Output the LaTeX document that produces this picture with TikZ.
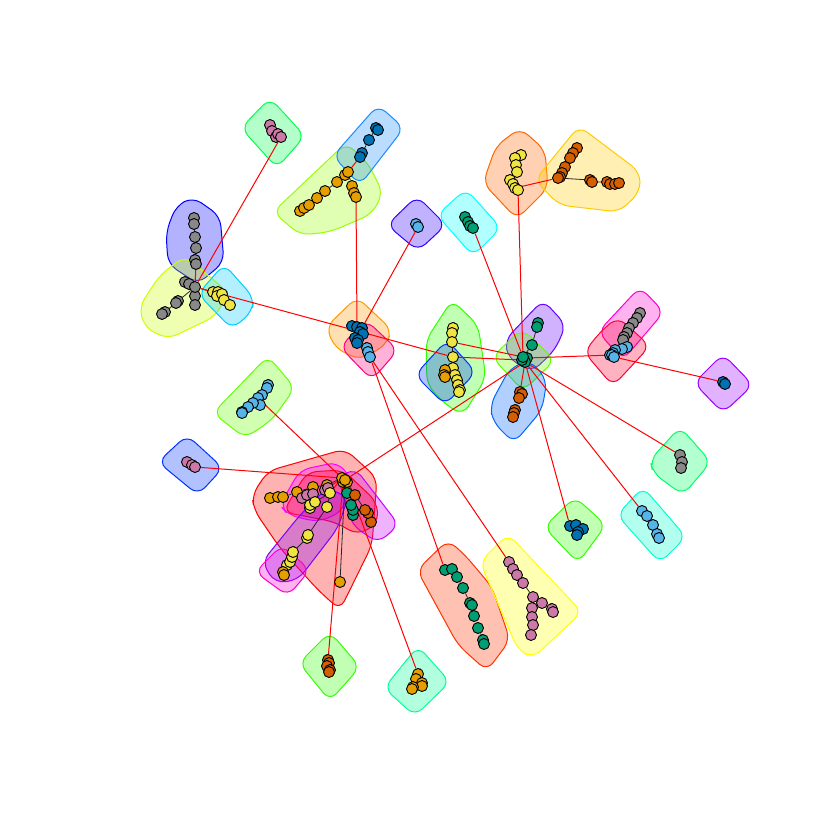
\documentclass[tikz,border=0pt]{standalone}
\pgfdeclarelayer{paper}
\pgfdeclarelayer{blobs}
\pgfdeclarelayer{edges}
\pgfsetlayers{paper,blobs,edges,main}
\definecolor{vOr}{HTML}{E69F00}
\definecolor{vSb}{HTML}{56B4E9}
\definecolor{vGr}{HTML}{009E73}
\definecolor{vYe}{HTML}{F0E442}
\definecolor{vBl}{HTML}{0072B2}
\definecolor{vVe}{HTML}{D55E00}
\definecolor{vPu}{HTML}{CC79A7}
\definecolor{vGy}{HTML}{888888}
\definecolor{bGreenA}{HTML}{00FF4D}
\definecolor{bBlue}{HTML}{0000FF}
\definecolor{bLime}{HTML}{CCFF00}
\definecolor{bAzure}{HTML}{00CCFF}
\definecolor{bChart}{HTML}{99FF00}
\definecolor{bSky}{HTML}{1A8CFF}
\definecolor{bIndigo}{HTML}{3300FF}
\definecolor{bCyan}{HTML}{00FFFF}
\definecolor{bOrange}{HTML}{FF6600}
\definecolor{bGold}{HTML}{FFCC00}
\definecolor{bAmber}{HTML}{FF9900}
\definecolor{bRose}{HTML}{FF0080}
\definecolor{bGreen}{HTML}{33FF00}
\definecolor{bRoyal}{HTML}{0033FF}
\definecolor{bViolet}{HTML}{6600FF}
\definecolor{bLawn}{HTML}{66FF00}
\definecolor{bDodger}{HTML}{0066FF}
\definecolor{bPink}{HTML}{FF00CC}
\definecolor{bCrimson}{HTML}{FF0033}
\definecolor{bPurple}{HTML}{9900FF}
\definecolor{bSpring}{HTML}{00FF66}
\definecolor{bAqua}{HTML}{00FFCC}
\definecolor{bVerm}{HTML}{FF3300}
\definecolor{bYellow}{HTML}{FFFF00}
\definecolor{bMint}{HTML}{00FF99}
\definecolor{bRed}{HTML}{FF0000}
\definecolor{bMagenta}{HTML}{FF00FF}
\definecolor{bOrchid}{HTML}{CC00FF}
\definecolor{bPurp}{HTML}{8000FF}
\tikzset{
  vtx/.style={circle, draw=black, line width=0.9pt, minimum size=11pt, inner sep=0pt, fill=#1},
  ie/.style={draw=black!85, line width=0.8pt},
  xe/.style={draw=red, line width=1pt},
  blob/.style={draw=#1, fill=#1, fill opacity=0.3, line width=1pt, rounded corners=10pt},
}
\begin{document}
\begin{tikzpicture}[x=1pt,y=-1pt]
\begin{pgfonlayer}{paper}
\fill[white] (0,0) rectangle (840,840);
\end{pgfonlayer}
\useasboundingbox (0,0) rectangle (840,840);
% ---------- vertices ----------
\foreach \n/\x/\y in {a1/270/125,a2/272/131,a3/276/137,a5/278/134,a4/281/137,
  z1/187/462,z2/192/465,z3/195/467,
  vv1/509/562,vv2/513/569,vv3/517/575,vv4/523/583,vv5/533/597,vv6/542/603,vv7/552/609,vv8/553/612,
  vv9/532/608,vv10/532/617,vv11/533/625,vv12/531/635}
  \node[vtx=vPu] (\n) at (\x,\y) {};
\foreach \n/\x/\y in {b1/194/218,b2/194/224,b3/195/237,b4/196/248,b5/195/260,b6/196/264,
  g1/185/282,g2/189/284,g3/195/296,g4/195/305,g5/178/301,g6/176/303,g7/165/312,g8/162/314,g0/195/287,
  p1/640/313,p2/637/318,p3/633/323,p4/629/328,p5/627/333,p6/624/337,p7/623/340,
  r1/680/455,r2/682/462,r3/681/468}
  \node[vtx=vGy] (\n) at (\x,\y) {};
\foreach \n/\x/\y in {d1/213/292,d2/218/292,d6/217/296,d3/222/294,d4/224/300,d5/230/305,
  i1/521/155,i2/515/158,i3/516/165,i4/517/172,i5/510/180,i6/513/184,i7/515/188,i8/518/190,
  n1/453/328,n2/452/333,n3/452/342,n4/453/357,n5/453/368,n6/455/375,n7/457/380,n8/458/385,n9/460/390,n10/459/392}
  \node[vtx=vYe] (\n) at (\x,\y) {};
\foreach \n/\x/\y in {e1/300/211,e2/304/208,e3/309/205,e4/317/198,e5/325/191,e6/337/182,e7/345/175,e8/348/172,
  e9/352/186,e10/354/193,e11/356/197,
  no1/445/370,no2/444/375,no3/445/377,
  x1/418/674,x2/416/679,x3/422/683,x6/422/686,x4/413/687,x5/412/689}
  \node[vtx=vOr] (\n) at (\x,\y) {};
\foreach \n/\x/\y in {f1/376/128,f2/378/130,f3/369/140,f4/362/153,f5/360/157,
  k1/352/326,k2/357/327,k3/362/328,k4/360/332,k5/363/334,k6/355/338,k7/358/340,k8/357/343,
  q1/723/382,q2/725/384,
  s1/570/526,s2/576/525,s4/583/529,s3/578/532,s5/577/535}
  \node[vtx=vBl] (\n) at (\x,\y) {};
\foreach \n/\x/\y in {gg1/416/224,gg2/418/227,
  l1/367/348,l2/368/352,l3/370/357,
  ps1/627/347,ps2/622/349,ps3/615/350,ps4/613/353,ps6/610/355,ps5/612/355,ps7/614/357,
  t1/642/511,t2/647/516,t3/653/525,t4/657/534,t5/659/538,
  y1/268/385,y2/267/388,y3/262/395,y4/258/398,y5/260/405,y6/253/403,y7/248/407,y8/242/412,y9/242/413}
  \node[vtx=vSb] (\n) at (\x,\y) {};
\foreach \n/\x/\y in {h1/465/217,h2/468/222,h4/470/226,h3/473/228,
  m7/538/323,m6/537/327,m5/532/345,m2/527/358,m4/525/362,m3/522/360,m1/523/357,
  u1/445/570,u2/452/569,u3/457/577,u4/463/588,u5/470/603,u6/472/605,u7/474/616,u8/478/628,u9/483/640,u10/484/644}
  \node[vtx=vGr] (\n) at (\x,\y) {};
\foreach \n/\x/\y in {j1/577/148,j2/573/153,j3/570/158,j4/565/167,j5/562/173,j6/560/177,j7/558/178,
  j8/590/180,j9/592/182,j10/607/182,j11/610/184,j12/615/184,j13/619/183,
  mv1/520/392,mv2/522/394,mv3/519/398,mv4/515/410,mv5/514/413,mv6/513/417,
  ww1/328/660,ww2/329/663,ww3/327/666,ww4/330/670,ww5/329/672}
  \node[vtx=vVe] (\n) at (\x,\y) {};
% big cluster
\foreach \n/\x/\y in {co6/270/498,co5/278/497,co4/283/497,co3/297/492,co2/313/487,co1/327/485}
  \node[vtx=vOr] (\n) at (\x,\y) {};
\foreach \n/\x/\y in {cp5/302/498,cp4/307/495,cp3/313/494,cp2/325/490,cp1/328/488}
  \node[vtx=vPu] (\n) at (\x,\y) {};
\foreach \n/\x/\y in {cy11/287/565,cy10/290/562,cy9/292/557,cy8/293/552,cy7/307/538,cy6/308/535,
  cy4/310/508,cy3/310/505,cy2/315/502,cy5/327/507,cy1/330/493}
  \node[vtx=vYe] (\n) at (\x,\y) {};
\foreach \n/\x/\y in {cb1/283/572,cb2/284/575,cz/340/582}
  \node[vtx=vOr] (\n) at (\x,\y) {};
\foreach \n/\x/\y in {cg4/353/515,cg3/353/510,cg2/351/505,cg1/347/493}
  \node[vtx=vGr] (\n) at (\x,\y) {};
\foreach \n/\x/\y in {cv4/371/522,cv3/368/513,cv2/365/510,cv1/355/495}
  \node[vtx=vVe] (\n) at (\x,\y) {};
\foreach \n/\x/\y in {c4/343/482,c3/347/482,c1/342/478,c2/345/480}
  \node[vtx=vOr] (\n) at (\x,\y) {};
% ---------- edges ----------
\begin{pgfonlayer}{edges}
\draw[ie] (a1)--(a2)--(a3)--(a4) (a3)--(a5);
\draw[ie] (b1)--(b2)--(b3)--(b4)--(b5)--(b6);
\draw[ie] (g0)--(g1)--(g2) (g0)--(g3)--(g4) (g0)--(g5)--(g7)--(g8) (g5)--(g6);
\draw[ie] (d1)--(d2)--(d3)--(d4)--(d5) (d3)--(d6);
\draw[ie] (e1)--(e2)--(e3)--(e4)--(e5)--(e6)--(e7)--(e8)--(e9)--(e10)--(e11);
\draw[ie] (f1)--(f2) (f1)--(f3)--(f4)--(f5);
\draw[ie] (gg1)--(gg2);
\draw[ie] (h1)--(h2)--(h3) (h2)--(h4);
\draw[ie] (i1)--(i2)--(i3)--(i4)--(i5)--(i6)--(i7)--(i8);
\draw[ie] (j1)--(j2)--(j3)--(j4)--(j5)--(j6)--(j7)--(j8)--(j9)--(j10)--(j11)--(j12)--(j13);
\draw[ie] (k1)--(k2)--(k3) (k2)--(k4)--(k5) (k4)--(k6)--(k7)--(k8);
\draw[ie] (l1)--(l2)--(l3);
\draw[ie] (n1)--(n2)--(n3)--(n4)--(n5)--(n6)--(n7)--(n8)--(n9)--(n10);
\draw[ie] (no1)--(no2)--(no3);
\draw[ie] (m1)--(m2) (m1)--(m3)--(m4) (m1)--(m5)--(m6)--(m7);
\draw[ie] (mv1)--(mv2)--(mv3)--(mv4)--(mv5)--(mv6);
\draw[ie] (p1)--(p2)--(p3)--(p4)--(p5)--(p6)--(p7);
\draw[ie] (ps1)--(ps2)--(ps3)--(ps4)--(ps5)--(ps6) (ps5)--(ps7);
\draw[ie] (q1)--(q2) (r1)--(r2)--(r3);
\draw[ie] (s1)--(s2)--(s3)--(s4) (s2)--(s5);
\draw[ie] (t1)--(t2)--(t3)--(t4)--(t5);
\draw[ie] (u1)--(u2)--(u3)--(u4)--(u5)--(u6)--(u7)--(u8)--(u9)--(u10);
\draw[ie] (vv1)--(vv2)--(vv3)--(vv4)--(vv5)--(vv6)--(vv7)--(vv8) (vv5)--(vv9)--(vv10)--(vv11)--(vv12);
\draw[ie] (ww1)--(ww2)--(ww3)--(ww4)--(ww5);
\draw[ie] (x1)--(x2)--(x4)--(x5) (x2)--(x3)--(x6);
\draw[ie] (y1)--(y2)--(y3)--(y4)--(y5) (y4)--(y6)--(y7)--(y8)--(y9);
\draw[ie] (z1)--(z2)--(z3);
\draw[ie] (c1)--(c2)--(c3)--(c4);
\draw[ie] (c1)--(co1)--(co2)--(co3)--(co4)--(co5)--(co6);
\draw[ie] (cp1)--(cp2)--(cp3)--(cp4)--(cp5);
\draw[ie] (cy1)--(cy2)--(cy3)--(cy4) (cy1)--(cy5)--(cy6)--(cy7)--(cy8)--(cy9)--(cy10)--(cy11);
\draw[ie] (cb1)--(cb2);
\draw[ie] (cg1)--(cg2)--(cg3)--(cg4);
\draw[ie] (cv1)--(cv2)--(cv3)--(cv4);
\draw[ie] (c2)--(cz);
% between groups
\draw[xe] (a4)--(g0);
\draw[xe] (b6)--(g0);
\draw[xe] (g0)--(d1);
\draw[xe] (g0)--(n4);
\draw[xe] (f5)--(e8);
\draw[xe] (e11)--(k2);
\draw[xe] (gg2)--(k3);
\draw[xe] (k8)--(l1);
\draw[xe] (h3)--(m1);
\draw[xe] (i8)--(m1);
\draw[xe] (i7)--(j7);
\draw[xe] (n4)--(m3);
\draw[xe] (n3)--(m1);
\draw[xe] (n5)--(no1);
\draw[xe] (m4)--(mv1);
\draw[xe] (l3)--(u1);
\draw[xe] (l3)--(vv1);
\draw[xe] (m4)--(c2);
\draw[xe] (m2)--(ps5);
\draw[xe] (p7)--(ps1);
\draw[xe] (ps7)--(q1);
\draw[xe] (m4)--(r1);
\draw[xe] (m4)--(s1);
\draw[xe] (m4)--(t1);
\draw[xe] (y4)--(c1);
\draw[xe] (z3)--(c1);
\draw[xe] (c3)--(x1);
\draw[xe] (c4)--(ww1);
\draw[xe] (c1)--(cp1);
\draw[xe] (c1)--(cy1);
\draw[xe] (c3)--(cg1);
\draw[xe] (c3)--(cv1);
\draw[xe] (cy11)--(cb1);
\end{pgfonlayer}
% ---------- groups ----------
\begin{pgfonlayer}{blobs}
\path[blob=bGreenA] (270,98)--(305,136)--(277,168)--(241,128)--cycle;
\path[blob=bBlue] (193,197)--(220,216)--(224,262)--(198,284)--(168,264)--(166,232)--(176,206)--cycle;
\path[blob=bLime] (185,256)--(228,292)--(216,316)--(168,339)--(145,328)--(139,307)--(160,275)--cycle;
\path[blob=bAzure] (224,264)--(254,298)--(252,312)--(232,329)--(198,294)--cycle;
\path[blob=bChart] (273,212)--(346,143)--(368,163)--(383,193)--(372,214)--(330,232)--(300,235)--cycle;
\path[blob=bSky] (333,156)--(378,105)--(404,128)--(360,185)--cycle;
\path[blob=bIndigo] (387,225)--(417,196)--(446,225)--(418,251)--cycle;
\path[blob=bCyan] (437,215)--(466,189)--(501,228)--(473,256)--cycle;
\path[blob=bOrange] (483,183)--(496,146)--(520,128)--(545,150)--(548,188)--(517,219)--cycle;
\path[blob=bGold] (535,180)--(579,126)--(640,172)--(640,192)--(619,212)--(559,205)--cycle;
\path[blob=bAmber] (326,327)--(357,297)--(392,330)--(386,345)--(360,360)--(335,348)--cycle;
\path[blob=bRose] (340,347)--(366,320)--(398,350)--(372,380)--cycle;
\path[blob=bGreen] (426,340)--(452,300)--(478,325)--(486,378)--(463,415)--(446,405)--(427,385)--cycle;
\path[blob=bRoyal] (415,375)--(447,340)--(476,372)--(445,405)--cycle;
\path[blob=bViolet] (505,340)--(543,300)--(566,325)--(555,350)--(532,372)--(508,358)--cycle;
\path[blob=bLawn] (492,357)--(522,329)--(555,360)--(523,391)--cycle;
\path[blob=bDodger] (490,405)--(510,368)--(530,360)--(547,380)--(542,410)--(514,443)--(493,422)--cycle;
\path[blob=bPink] (598,332)--(640,287)--(664,312)--(623,360)--cycle;
\path[blob=bCrimson] (584,352)--(602,330)--(618,317)--(650,346)--(613,386)--cycle;
\path[blob=bPurple] (694,383)--(723,354)--(753,385)--(723,413)--cycle;
\path[blob=bSpring] (650,460)--(680,427)--(711,462)--(683,495)--(653,473)--cycle;
\path[blob=bGreen] (544,527)--(575,497)--(606,525)--(578,563)--cycle;
\path[blob=bAqua] (617,515)--(643,487)--(686,537)--(660,563)--cycle;
\path[blob=bVerm] (417,570)--(448,540)--(465,555)--(492,587)--(510,640)--(487,671)--(458,645)--cycle;
\path[blob=bYellow] (480,562)--(508,534)--(582,612)--(533,658)--(518,650)--cycle;
\path[blob=bGreen] (299,663)--(330,632)--(360,667)--(330,701)--cycle;
\path[blob=bMint] (384,688)--(418,646)--(450,682)--(415,716)--cycle;
\path[blob=bLawn] (213,413)--(268,356)--(295,388)--(272,420)--(245,438)--cycle;
\path[blob=bRoyal] (158,462)--(187,435)--(223,468)--(198,495)--cycle;
\path[blob=bRed] (252,495)--(268,471)--(345,449)--(377,478)--(372,545)--(340,610)--(318,590)--(280,548)--(254,510)--cycle;
\path[blob=bMagenta] (280,505)--(300,470)--(338,462)--(352,480)--(342,512)--(318,522)--(288,515)--cycle;
\path[blob=bOrchid] (338,478)--(355,468)--(399,525)--(378,543)--(352,525)--cycle;
\path[blob=bCrimson] (283,512)--(307,472)--(343,470)--(377,502)--(378,523)--(358,535)--(335,522)--cycle;
\path[blob=bPurp] (262,562)--(300,515)--(327,488)--(348,497)--(338,528)--(298,580)--(275,583)--cycle;
\path[blob=bPink] (255,572)--(282,545)--(310,570)--(288,596)--cycle;
\end{pgfonlayer}
\end{tikzpicture}
\end{document}
